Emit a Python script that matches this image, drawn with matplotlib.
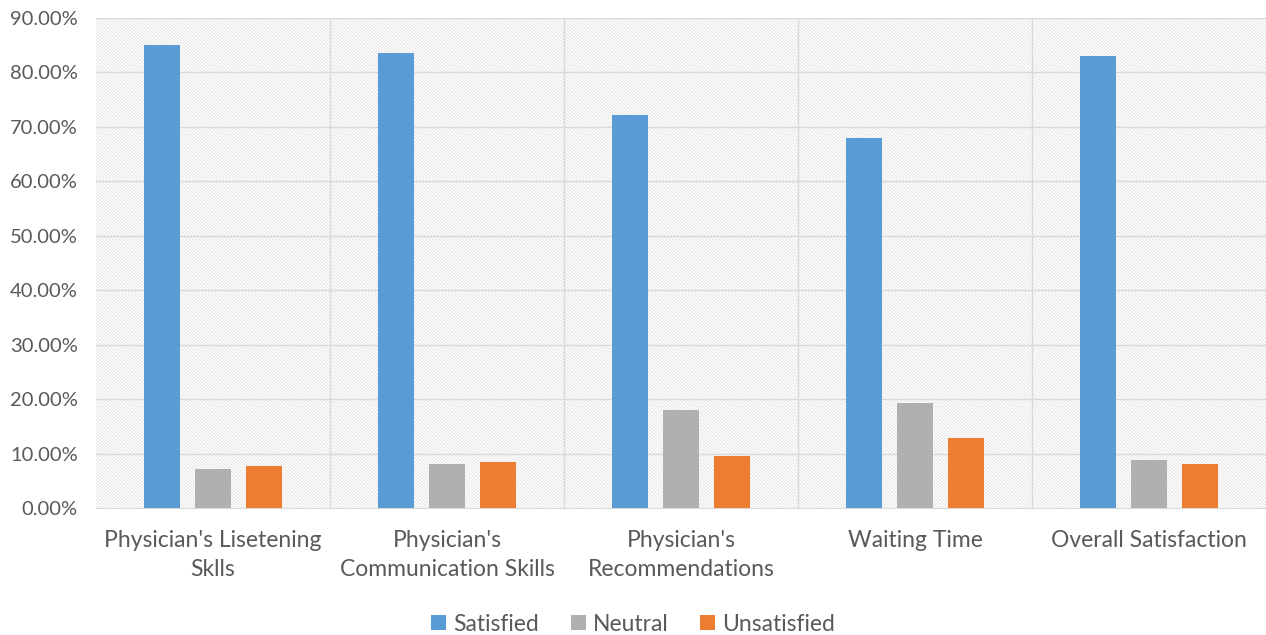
import matplotlib.pyplot as plt
import numpy as np
from matplotlib.patches import Rectangle
from matplotlib.ticker import FuncFormatter

plt.rcParams["font.family"] = ["Lato", "DejaVu Sans"]
plt.rcParams["hatch.linewidth"] = 0.5

categories = ["Physician's Lisetening\nSklls", "Physician's\nCommunication Skills",
              "Physician's\nRecommendations", "Waiting Time", "Overall Satisfaction"]
satisfied = [85.0, 83.6, 72.2, 68.0, 83.0]
neutral = [7.2, 8.1, 18.0, 19.3, 8.8]
unsatisfied = [7.7, 8.5, 9.6, 12.9, 8.1]

series = [("Satisfied", satisfied, "#5b9bd5"),
          ("Neutral", neutral, "#b0b0b0"),
          ("Unsatisfied", unsatisfied, "#ed7d31")]

fig = plt.figure(figsize=(12.66, 6.35), dpi=100)
ax = fig.add_axes([0.0758, 0.2, 0.9242, 0.7717])

x = np.arange(len(categories))
width = 0.154
step = 0.218

ax.set_xlim(-0.5, len(categories) - 0.5)
ax.set_ylim(0, 90)

# hatched background
bg = Rectangle((0, 0), 1, 1, transform=ax.transAxes, facecolor="white",
               edgecolor="#d9d9d9", hatch="\\" * 10, linewidth=0, zorder=0)
ax.add_patch(bg)

for yv in range(10, 91, 10):
    ax.axhline(yv, color="#d9d9d9", linewidth=1.0, zorder=1)
for xv in np.arange(0.5, len(categories) - 0.5, 1):
    ax.axvline(xv, color="#d9d9d9", linewidth=1.0, zorder=1)

for i, (name, vals, col) in enumerate(series):
    ax.bar(x + (i - 1) * step, vals, width, color=col, label=name, zorder=3)

for s in ["top", "right", "left"]:
    ax.spines[s].set_visible(False)
ax.spines["bottom"].set_color("#d9d9d9")
ax.spines["bottom"].set_zorder(2)

ax.set_yticks(range(0, 91, 10))
ax.yaxis.set_major_formatter(FuncFormatter(lambda v, p: f"{v:.2f}%"))
ax.set_xticks(x)
ax.set_xticklabels(categories, fontsize=16.5, linespacing=1.45)
ax.tick_params(axis="both", length=0, colors="#595959")
ax.tick_params(axis="y", labelsize=14.5, pad=13)
ax.tick_params(axis="x", pad=16)

fig.legend(loc="lower center", bbox_to_anchor=(0.5, -0.032), ncol=3, frameon=False,
           fontsize=16.5, labelcolor="#595959", handlelength=0.65, handleheight=0.65,
           handletextpad=0.3, columnspacing=1.4)

fig.savefig("out.png", dpi=100)
